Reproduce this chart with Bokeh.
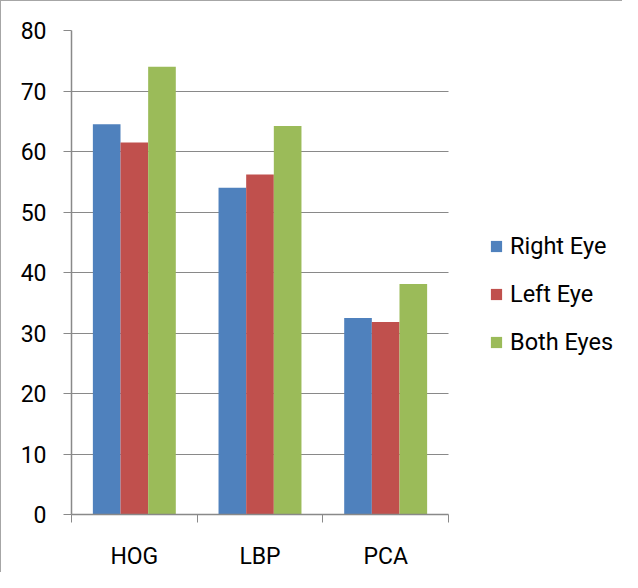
from bokeh.plotting import figure
from bokeh.models import (ColumnDataSource, Range1d, FixedTicker, Legend, LegendItem)
from bokeh.embed import file_html
from bokeh.resources import INLINE

categories = ["HOG", "LBP", "PCA"]
right_eye = [64.5, 54.0, 32.5]
left_eye = [61.5, 56.2, 31.8]
both_eyes = [74.0, 64.2, 38.1]
series_names = ["Right Eye", "Left Eye", "Both Eyes"]
series_values = [right_eye, left_eye, both_eyes]
colors = ["#4F81BD", "#C0504D", "#9BBB59"]
y_ticks = [0, 10, 20, 30, 40, 50, 60, 70, 80]

FONT = "Roboto"
GRAY = "#898989"

# layout: the category area is 377px wide, the frame also holds the legend
W, H = 622, 572
BL, BR, BT, BB = 71, 2, 30, 52
frame_w = W - BL - BR
cat_px = 377
n = len(categories)
x_end = n * frame_w / cat_px

p = figure(width=W, height=H, output_backend="svg", toolbar_location=None,
           x_range=Range1d(0, x_end), y_range=Range1d(0, 80),
           min_border_left=BL, min_border_right=BR, min_border_top=BT, min_border_bottom=BB,
           border_fill_color=None, background_fill_color=None, outline_line_color=None)
p.styles = {"box-shadow": "inset 1px 1px 0 0 #a6a6a6"}

centers = [i + 0.5 for i in range(n)]
boundaries = [float(i) for i in range(n + 1)]
offsets = [-0.22, 0.0, 0.22]
bar_w = 0.22
renderers = []
for name, vals, off, col in zip(series_names, series_values, offsets, colors):
    src = ColumnDataSource(dict(x=[c + off for c in centers], top=vals))
    r = p.vbar(x="x", top="top", width=bar_w, bottom=0, source=src,
               fill_color=col, line_color=None)
    renderers.append(r)

# y axis
p.yaxis.ticker = FixedTicker(ticks=y_ticks)
p.yaxis.axis_line_color = GRAY
p.yaxis.axis_line_width = 1.5
p.yaxis.major_tick_line_color = GRAY
p.yaxis.major_tick_out = 8
p.yaxis.major_tick_in = 0
p.yaxis.minor_tick_line_color = None
p.yaxis.major_label_text_font = FONT
p.yaxis.major_label_text_font_size = "23px"
p.yaxis.major_label_text_color = "#000000"
p.yaxis.major_label_standoff = 17

# x axis
p.xaxis.bounds = (0, n)
p.xaxis.ticker = FixedTicker(ticks=centers, minor_ticks=boundaries)
p.xaxis.major_label_overrides = {c: cat for c, cat in zip(centers, categories)}
p.xaxis.axis_line_color = GRAY
p.xaxis.axis_line_width = 1.5
p.xaxis.major_tick_line_color = None
p.xaxis.major_tick_out = 0
p.xaxis.major_tick_in = 0
p.xaxis.minor_tick_line_color = GRAY
p.xaxis.minor_tick_out = 8
p.xaxis.minor_tick_in = 0
p.xaxis.major_label_text_font = FONT
p.xaxis.major_label_text_font_size = "23px"
p.xaxis.major_label_text_color = "#000000"
p.xaxis.major_label_standoff = 20

p.xgrid.grid_line_color = None
p.ygrid.ticker = FixedTicker(ticks=y_ticks)
p.ygrid.cross_bounds = (0, n)
p.ygrid.grid_line_color = GRAY
p.ygrid.grid_line_width = 1

legend = Legend(items=[LegendItem(label=s, renderers=[r]) for s, r in zip(series_names, renderers)],
                location=(418, 158), orientation="vertical",
                glyph_width=14, glyph_height=14, label_standoff=7,
                label_height=28, spacing=20, padding=0, margin=0,
                border_line_color=None, background_fill_color=None,
                label_text_font=FONT, label_text_font_size="23.5px", label_text_color="#000000")
p.add_layout(legend, "center")

open("out.html", "w").write(file_html(p, INLINE))
